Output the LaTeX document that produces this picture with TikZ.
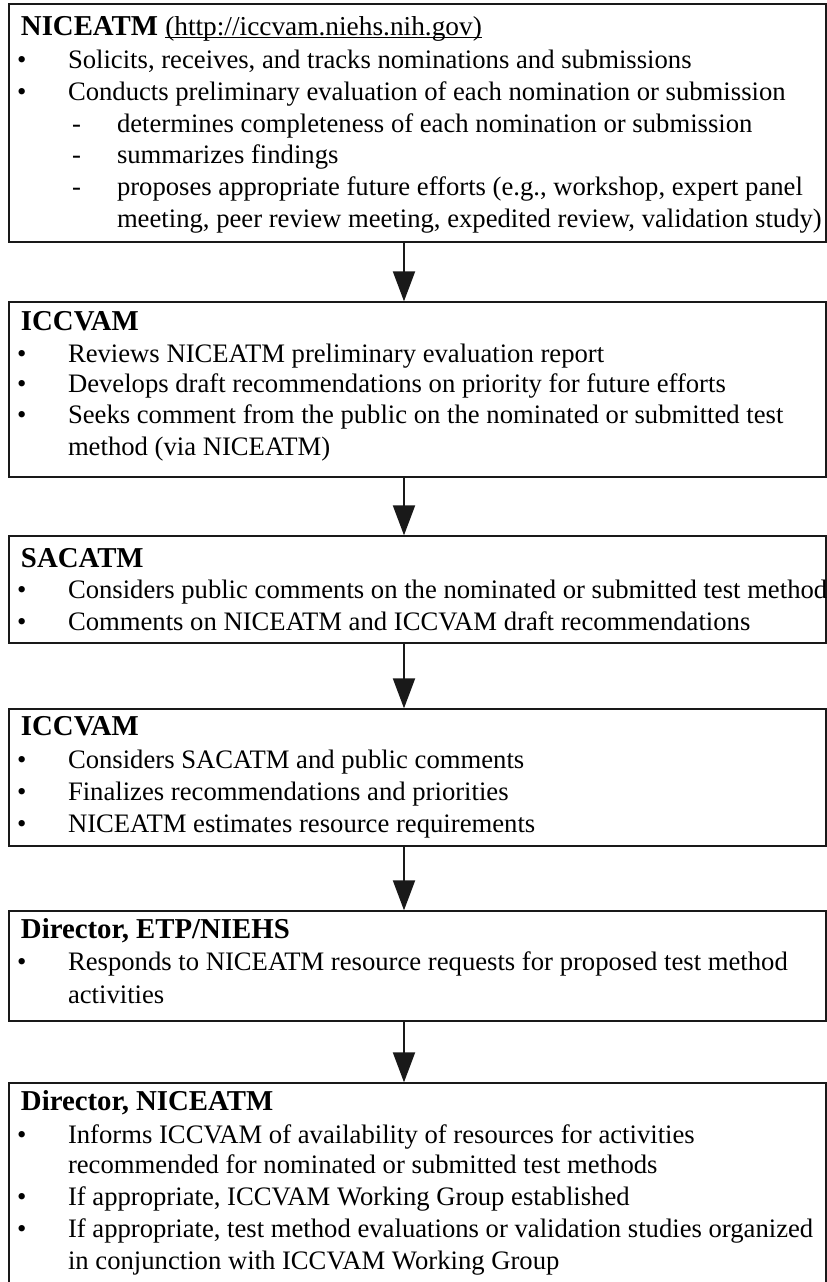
\documentclass[tikz,border=0pt]{standalone}
\usepackage{fontspec}
\setmainfont{Liberation Serif}
\usetikzlibrary{arrows.meta,fit}
\newcommand\myul[1]{\setbox0=\hbox{#1}\rlap{\rule[-2.2pt]{\wd0}{0.9pt}}\box0}
\newcommand\lineat[4]{\node[txt] (#1) at (#2,#3) {#4};}
\newcommand\bul[2]{\node[txt] (#1) at (17,#2) {\textbullet};}
\newcommand\dsh[2]{\node[txt] (#1) at (72,#2) {-};}
\begin{document}
\begin{tikzpicture}[x=0.75pt,y=-0.75pt,
  txt/.style={anchor=base west,inner sep=0pt,outer sep=0pt,font=\fontsize{20}{24}\selectfont},
  hdr/.style={txt,font=\fontsize{21.6}{26}\selectfont\bfseries},
  box/.style={draw=black!90,line width=1.5pt,inner sep=0pt,outer sep=0pt},
  arr/.style={draw=black!90,line width=1.5pt,-{Triangle[length=22.5pt,width=16.5pt]},shorten >=0.5pt}]
\useasboundingbox (0,0) rectangle (827,1282);
\clip (0,0) rectangle (827,1282);
\fill[white] (0,0) rectangle (827,1282);
\coordinate (xa) at (404,0);
% boxes
\node[box,fit={(9,4) (826,242)}] (b1) {};
\node[box,fit={(9,302) (826,477)}] (b2) {};
\node[box,fit={(9,536) (826,643)}] (b3) {};
\node[box,fit={(9,709) (826,846)}] (b4) {};
\node[box,fit={(9,911) (826,1021)}] (b5) {};
\node[box,fit={(9,1083) (826,1300)}] (b6) {};
% arrows
\draw[arr] (b1.south -| xa) -- (b2.north -| xa);
\draw[arr] (b2.south -| xa) -- (b3.north -| xa);
\draw[arr] (b3.south -| xa) -- (b4.north -| xa);
\draw[arr] (b4.south -| xa) -- (b5.north -| xa);
\draw[arr] (b5.south -| xa) -- (b6.north -| xa);
% box 1
\node[hdr] (b1h) at (21,35) {NICEATM \mdseries\fontsize{20.5}{24}\selectfont\myul{(http://iccvam.niehs.nih.gov)}};
\bul{b1b1}{68}\lineat{b1t1}{68}{68}{Solicits, receives, and tracks nominations and submissions}
\bul{b1b2}{100}\lineat{b1t2}{68}{100}{Conducts preliminary evaluation of each nomination or submission}
\dsh{b1d1}{132}\lineat{b1u1}{117}{132}{determines completeness of each nomination or submission}
\dsh{b1d2}{163}\lineat{b1u2}{117}{163}{summarizes findings}
\dsh{b1d3}{195}\lineat{b1u3}{117}{195}{proposes appropriate future efforts (e.g., workshop, expert panel}
\lineat{b1u4}{117}{227}{meeting, peer review meeting, expedited review, validation study)}
% box 2
\node[hdr] (b2h) at (21,330) {ICCVAM};
\bul{b2b1}{362}\lineat{b2t1}{68}{362}{Reviews NICEATM preliminary evaluation report}
\bul{b2b2}{392}\lineat{b2t2}{68}{392}{Develops draft recommendations on priority for future efforts}
\bul{b2b3}{423}\lineat{b2t3}{68}{423}{Seeks comment from the public on the nominated or submitted test}
\lineat{b2t4}{68}{455}{method (via NICEATM)}
% box 3
\node[hdr] (b3h) at (21,567) {SACATM};
\bul{b3b1}{598}\lineat{b3t1}{68}{598}{Considers public comments on the nominated or submitted test method}
\bul{b3b2}{630}\lineat{b3t2}{68}{630}{Comments on NICEATM and ICCVAM draft recommendations}
% box 4
\node[hdr] (b4h) at (21,735) {ICCVAM};
\bul{b4b1}{768}\lineat{b4t1}{68}{768}{Considers SACATM and public comments}
\bul{b4b2}{800}\lineat{b4t2}{68}{800}{Finalizes recommendations and priorities}
\bul{b4b3}{832}\lineat{b4t3}{68}{832}{NICEATM estimates resource requirements}
% box 5
\node[hdr] (b5h) at (21,938) {Director, ETP/NIEHS};
\bul{b5b1}{970}\lineat{b5t1}{68}{970}{Responds to NICEATM resource requests for proposed test method}
\lineat{b5t2}{68}{1003}{activities}
% box 6
\node[hdr] (b6h) at (21,1110) {Director, NICEATM};
\bul{b6b1}{1143}\lineat{b6t1}{68}{1143}{Informs ICCVAM of availability of resources for activities}
\lineat{b6t2}{68}{1173}{recommended for nominated or submitted test methods}
\bul{b6b2}{1205}\lineat{b6t3}{68}{1205}{If appropriate, ICCVAM Working Group established}
\bul{b6b3}{1237}\lineat{b6t4}{68}{1237}{If appropriate, test method evaluations or validation studies organized}
\lineat{b6t5}{68}{1269}{in conjunction with ICCVAM Working Group}
\end{tikzpicture}
\end{document}
